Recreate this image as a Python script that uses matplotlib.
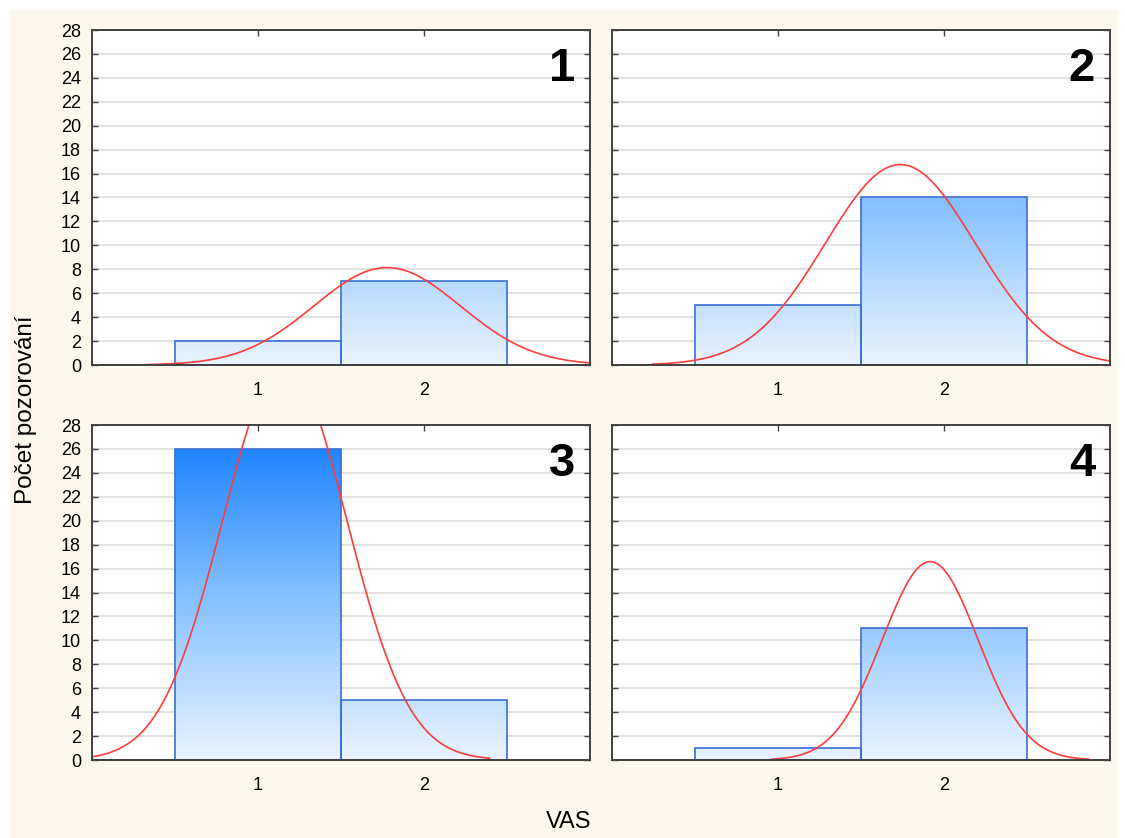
import matplotlib
matplotlib.use("Agg")
import matplotlib.pyplot as plt
import numpy as np
from matplotlib.colors import LinearSegmentedColormap
from matplotlib.patches import Rectangle

plt.rcParams['font.family'] = ['Liberation Sans', 'DejaVu Sans']

# data: counts for VAS = 1 and VAS = 2 in each of the four groups
vas_values = [1, 2]
panel_labels = ['1', '2', '3', '4']
counts_1 = [2, 7]
counts_2 = [5, 14]
counts_3 = [26, 5]
counts_4 = [1, 11]
all_counts = [counts_1, counts_2, counts_3, counts_4]

ymax = 28
bg = '#fdf8ee'
cmap = LinearSegmentedColormap.from_list('bars', ['#eaf4ff', '#82bfff', '#0f7bff'])

fig = plt.figure(figsize=(11.25, 8.38), dpi=100, facecolor='white')
fig.patches.append(Rectangle((10 / 1125, 0), 1108 / 1125, 828 / 838,
                             transform=fig.transFigure, facecolor=bg,
                             edgecolor='none', zorder=-10))

lefts = [92, 612, 92, 612]
tops = [30, 30, 425, 425]
W, H = 1125.0, 838.0

for i in range(4):
    left = lefts[i] / W
    bottom = 1 - (tops[i] + 335) / H
    ax = fig.add_axes([left, bottom, 498 / W, 335 / H])
    ax.set_facecolor('white')
    counts = all_counts[i]

    # gradient-filled bars
    grad = np.linspace(0, 1, 256).reshape(-1, 1)
    for x, c in zip(vas_values, counts):
        im = ax.imshow(grad, extent=[0, 3, 0, ymax], origin='lower', aspect='auto',
                       cmap=cmap, vmin=0, vmax=1, zorder=2)
        r = Rectangle((x - 0.5, 0), 1, c, facecolor='none', edgecolor='#3a6fd8',
                      linewidth=1.2, zorder=3)
        ax.add_patch(r)
        im.set_clip_path(r)

    # fitted normal curve
    data = np.repeat(vas_values, counts)
    n = len(data)
    mu = data.mean()
    sd = data.std(ddof=1)
    xs = np.linspace(mu - 3.3 * sd, mu + 3.3 * sd, 300)
    ys = n * np.exp(-0.5 * ((xs - mu) / sd) ** 2) / (sd * np.sqrt(2 * np.pi))
    ax.plot(xs, ys, color='#ff3b3b', linewidth=1.2, zorder=4, clip_on=True)

    ax.set_xlim(0, 3)
    ax.set_ylim(0, ymax)
    ax.set_yticks(np.arange(0, ymax + 1, 2))
    ax.set_xticks(vas_values)
    ax.grid(axis='y', color='#dcdcdc', linewidth=1.2, zorder=0)
    ax.set_axisbelow(True)
    ax.tick_params(direction='in', length=4, width=1, color='#404040',
                   top=True, right=True, labelsize=13, pad=12)
    ax.tick_params(axis='y', pad=8)
    if i % 2 == 1:
        ax.set_yticklabels([])
    for s in ax.spines.values():
        s.set_color('#404040')
        s.set_linewidth(1.4)
        s.set_zorder(5)

    ax.text(0.97, 0.95, panel_labels[i], transform=ax.transAxes, ha='right',
            va='top', fontsize=34, fontweight='bold', zorder=6)

fig.text(26 / W, 1 - 410 / H, 'Počet pozorování', rotation=90, ha='center',
         va='center', fontsize=17.5)
fig.text(569 / W, 1 - 822 / H, 'VAS', ha='center', va='center', fontsize=17)

fig.savefig('out.png', dpi=100, facecolor=fig.get_facecolor())
